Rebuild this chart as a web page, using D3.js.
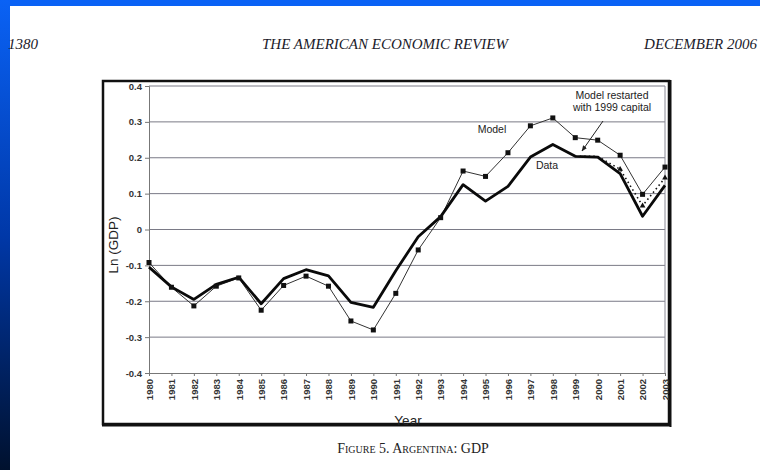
<!DOCTYPE html>
<html>
<head>
<meta charset="utf-8">
<script src="https://cdn.jsdelivr.net/npm/d3@7"></script>
<style>
  html, body { margin: 0; padding: 0; background: #fff; }
  svg { display: block; }
</style>
</head>
<body>
<svg id="chart" width="760" height="470"></svg>
<script>
// ---- data ----
const years = d3.range(1980, 2004);
const dataSeries = [-0.105, -0.160, -0.195, -0.153, -0.133, -0.207, -0.137, -0.112, -0.129, -0.203,
                    -0.217, -0.115, -0.020, 0.036, 0.125, 0.079, 0.120, 0.202, 0.237, 0.204,
                    0.202, 0.156, 0.037, 0.123];
const modelSeries = [-0.092, -0.161, -0.213, -0.158, -0.135, -0.225, -0.156, -0.130, -0.158, -0.255,
                     -0.280, -0.178, -0.057, 0.033, 0.163, 0.148, 0.214, 0.289, 0.311, 0.256,
                     0.249, 0.207, 0.098, 0.174];
const restartYears = [1999, 2000, 2001, 2002, 2003];
const restartSeries = [0.204, 0.204, 0.168, 0.066, 0.144];
const yTicks = [-0.4, -0.3, -0.2, -0.1, 0, 0.1, 0.2, 0.3, 0.4];

const svg = d3.select("#chart");

// ---- page / slide background ----
const defs = svg.append("defs");
const grad = defs.append("linearGradient").attr("id", "sideGrad")
  .attr("x1", 0).attr("y1", 0).attr("x2", 0).attr("y2", 1);
grad.append("stop").attr("offset", "0%").attr("stop-color", "#0a62f5");
grad.append("stop").attr("offset", "50%").attr("stop-color", "#0038a8");
grad.append("stop").attr("offset", "100%").attr("stop-color", "#00112e");
svg.append("rect").attr("x", 0).attr("y", 0).attr("width", 760).attr("height", 470).attr("fill", "#fff");
svg.append("rect").attr("x", 0).attr("y", 0).attr("width", 760).attr("height", 6).attr("fill", "#0a62f5");
svg.append("rect").attr("x", 0).attr("y", 0).attr("width", 10).attr("height", 470).attr("fill", "url(#sideGrad)");

// ---- page header ----
const hdr = svg.append("g").attr("font-family", "Liberation Serif, Times New Roman, serif")
  .attr("font-style", "italic").attr("font-size", 15).attr("fill", "#1a1a2a");
hdr.append("text").attr("x", 8).attr("y", 49).text("1380");
hdr.append("text").attr("x", 385).attr("y", 49).attr("text-anchor", "middle").text("THE AMERICAN ECONOMIC REVIEW");
hdr.append("text").attr("x", 757).attr("y", 49).attr("text-anchor", "end").text("DECEMBER 2006");

// ---- caption ----
svg.append("text").attr("x", 413).attr("y", 453).attr("text-anchor", "middle")
  .attr("font-family", "Liberation Serif, Times New Roman, serif").attr("font-size", 14)
  .attr("font-variant", "small-caps").attr("fill", "#222")
  .text("Figure 5. Argentina: GDP");

// ---- chart frame ----
svg.append("rect").attr("x", 103).attr("y", 81).attr("width", 566).attr("height", 343)
  .attr("fill", "#fff").attr("stroke", "#111").attr("stroke-width", 2.5);
svg.append("line").attr("x1", 670.5).attr("x2", 670.5).attr("y1", 80).attr("y2", 427)
  .attr("stroke", "#111").attr("stroke-width", 2);
svg.append("line").attr("x1", 102).attr("x2", 671).attr("y1", 425.5).attr("y2", 425.5)
  .attr("stroke", "#111").attr("stroke-width", 2);

// ---- scales ----
const x = d3.scaleLinear().domain([1980, 2003]).range([149, 665]);
const y = d3.scaleLinear().domain([-0.4, 0.4]).range([373, 86]);

// ---- gridlines ----
svg.append("g").selectAll("line").data(yTicks.filter(d => d > -0.4)).join("line")
  .attr("x1", x(1980)).attr("x2", x(2003))
  .attr("y1", d => y(d)).attr("y2", d => y(d))
  .attr("stroke", "#7a7a86").attr("stroke-width", 1);
// right border of plot area
svg.append("line").attr("x1", x(2003)).attr("x2", x(2003)).attr("y1", y(0.4)).attr("y2", y(-0.4))
  .attr("stroke", "#8a8a96").attr("stroke-width", 1);

// ---- axes ----
const yAxis = d3.axisLeft(y).tickValues(yTicks).tickSize(4).tickPadding(3)
  .tickFormat(d => d === 0 ? "0" : d.toFixed(1));
const gy = svg.append("g").attr("transform", `translate(${x(1980)},0)`).call(yAxis);
gy.select(".domain").attr("stroke", "#777");
gy.selectAll(".tick line").attr("stroke", "#777");
gy.selectAll("text").attr("font-family", "Liberation Sans, Arial, sans-serif")
  .attr("font-size", 9.5).attr("font-weight", "bold").attr("fill", "#333");

const xAxis = d3.axisBottom(x).tickValues(years).tickSize(3).tickFormat(d3.format("d"));
const gx = svg.append("g").attr("transform", `translate(0,${y(-0.4)})`).call(xAxis);
gx.select(".domain").attr("stroke", "#777");
gx.selectAll(".tick line").attr("stroke", "#777");
gx.selectAll("text").attr("font-family", "Liberation Sans, Arial, sans-serif")
  .attr("font-size", 9.5).attr("font-weight", "bold").attr("fill", "#333")
  .attr("text-anchor", "end").attr("transform", "rotate(-90)")
  .attr("x", -6).attr("y", 0).attr("dy", "0.35em");

// ---- axis titles ----
svg.append("text").attr("transform", "translate(118,245) rotate(-90)").attr("text-anchor", "middle")
  .attr("font-family", "Liberation Sans, Arial, sans-serif").attr("font-size", 13.5).attr("fill", "#222")
  .text("Ln (GDP)");
svg.append("text").attr("x", 408).attr("y", 425).attr("text-anchor", "middle")
  .attr("font-family", "Liberation Sans, Arial, sans-serif").attr("font-size", 13.5).attr("fill", "#222")
  .text("Year");

// ---- lines ----
const line = d3.line().x(d => x(d[0])).y(d => y(d[1]));
const modelPts = years.map((yr, i) => [yr, modelSeries[i]]);
const dataPts = years.map((yr, i) => [yr, dataSeries[i]]);
const restartPts = restartYears.map((yr, i) => [yr, restartSeries[i]]);

svg.append("path").datum(restartPts).attr("d", line).attr("fill", "none")
  .attr("stroke", "#111").attr("stroke-width", 1.6).attr("stroke-dasharray", "1.5,3");
svg.append("path").datum(modelPts).attr("d", line).attr("fill", "none")
  .attr("stroke", "#333").attr("stroke-width", 1);
svg.append("path").datum(dataPts).attr("d", line).attr("fill", "none")
  .attr("stroke", "#0a0a0a").attr("stroke-width", 2.8).attr("stroke-linejoin", "round");

svg.append("g").selectAll("rect").data(modelPts).join("rect")
  .attr("x", d => x(d[0]) - 2.5).attr("y", d => y(d[1]) - 2.5)
  .attr("width", 5).attr("height", 5).attr("fill", "#111");
svg.append("g").selectAll("path").data(restartPts.slice(2)).join("path")
  .attr("d", d3.symbol().type(d3.symbolTriangle).size(14))
  .attr("transform", d => `translate(${x(d[0])},${y(d[1])})`).attr("fill", "#111");

// ---- annotations ----
const ann = svg.append("g").attr("font-family", "Liberation Sans, Arial, sans-serif")
  .attr("font-size", 10.5).attr("fill", "#222");
ann.append("text").attr("x", 492).attr("y", 133).attr("text-anchor", "middle").text("Model");
ann.append("text").attr("x", 547).attr("y", 169).attr("text-anchor", "middle").text("Data");
ann.append("text").attr("x", 612).attr("y", 99).attr("text-anchor", "middle").text("Model restarted");
ann.append("text").attr("x", 612).attr("y", 111).attr("text-anchor", "middle").text("with 1999 capital");

defs.append("marker").attr("id", "arrow").attr("viewBox", "0 0 10 10").attr("refX", 9).attr("refY", 5)
  .attr("markerWidth", 6).attr("markerHeight", 6).attr("orient", "auto")
  .append("path").attr("d", "M0,1 L10,5 L0,9 z").attr("fill", "#222");
svg.append("line").attr("x1", 603).attr("y1", 121).attr("x2", 582).attr("y2", 151)
  .attr("stroke", "#222").attr("stroke-width", 1).attr("marker-end", "url(#arrow)");
</script>
</body>
</html>
